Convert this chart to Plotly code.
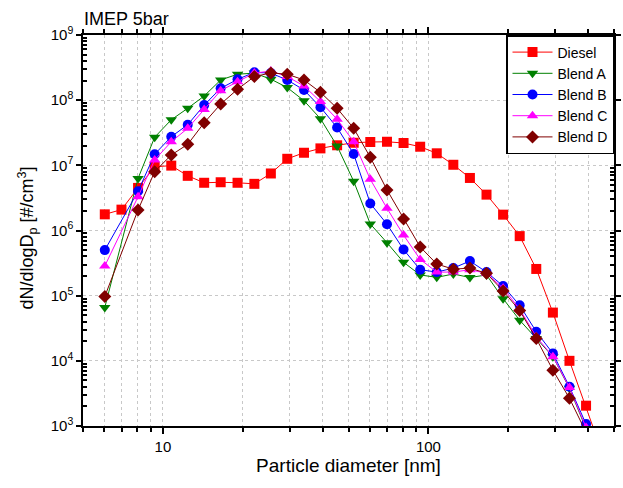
import plotly.graph_objects as go

diameter = [6.04, 6.98, 8.06, 9.31, 10.75, 12.4, 14.3, 16.5, 19.1, 22.1, 25.5, 29.4,
            34.0, 39.2, 45.3, 52.3, 60.4, 69.8, 80.6, 93.1, 107.5, 124.1, 143.3,
            165.5, 191.1, 220.7, 254.8, 294.3, 339.8, 392.4, 453.1]

diesel = [1.77e6, 2.09e6, 4.5e6, 9.5e6, 9.9e6, 6.9e6, 5.4e6, 5.5e6, 5.4e6, 5.2e6,
          7.5e6, 1.26e7, 1.56e7, 1.82e7, 2.03e7, 2.22e7, 2.28e7, 2.3e7, 2.2e7,
          1.93e7, 1.53e7, 1.02e7, 6.4e6, 3.55e6, 1.75e6, 8.2e5, 2.57e5, 5.5e4,
          1.0e4, 2.05e3, 3.7e2]

blend_a = [6.6e4, None, 6.3e6, 2.7e7, 5.0e7, 7.5e7, 1.16e8, 2.04e8, 2.5e8, 2.6e8,
           2.1e8, 1.56e8, 9.8e7, 5.2e7, 1.98e7, 5.7e6, 1.26e6, 6.5e5, 3.25e5,
           2.08e5, 1.91e5, 2.15e5, 1.9e5, 2.08e5, 9.0e4, 4.2e4, 2.2e4, 1.16e4,
           3.8e3, 9.0e2, None]

blend_b = [5.0e5, None, 4.0e6, 1.48e7, 2.75e7, 4.2e7, 8.4e7, 1.52e8, 2.09e8, 2.67e8,
           2.6e8, 2.04e8, 1.43e8, 7.8e7, 3.8e7, 1.49e7, 2.6e6, 1.25e6, 5.1e5,
           2.5e5, 2.3e5, 2.65e5, 3.4e5, 2.3e5, 1.41e5, 7.1e4, 2.8e4, 1.3e4,
           4.0e3, 1.07e3, None]

blend_c = [2.85e5, None, 3.3e6, 1.21e7, 2.3e7, 3.7e7, 7.2e7, 1.4e8, 1.92e8, 2.6e8,
           2.8e8, 2.3e8, 1.65e8, 9.5e7, 5.1e7, 2.3e7, 6.1e6, 2.19e6, 8.5e5,
           3.6e5, 2.3e5, 2.3e5, 2.5e5, 2.2e5, 1.3e5, 6.2e4, 2.35e4, 1.16e4,
           3.9e3, 9.5e2, None]

blend_d = [9.7e4, None, 2.07e6, 8.0e6, 1.44e7, 2.1e7, 4.5e7, 8.7e7, 1.47e8, 2.3e8,
           2.62e8, 2.5e8, 2.04e8, 1.32e8, 7.5e7, 3.7e7, 1.33e7, 4.2e6, 1.5e6,
           5.6e5, 3.06e5, 2.55e5, 2.65e5, 2.2e5, 1.18e5, 5.9e4, 2.2e4, 7.2e3,
           2.66e3, 8.0e2, None]

series = [
    ("Diesel", diesel, "#FF0000", "square"),
    ("Blend A", blend_a, "#008000", "triangle-down"),
    ("Blend B", blend_b, "#0000FF", "circle"),
    ("Blend C", blend_c, "#FF00FF", "triangle-up"),
    ("Blend D", blend_d, "#800000", "diamond"),
]

y_tickvals = [1e3, 1e4, 1e5, 1e6, 1e7, 1e8, 1e9]
y_ticktext = ["10<sup>3</sup>", "10<sup>4</sup>", "10<sup>5</sup>", "10<sup>6</sup>",
              "10<sup>7</sup>", "10<sup>8</sup>", "10<sup>9</sup>"]
y_minor = [m * 10 ** e for e in range(3, 9) for m in (2, 3, 4, 5, 6, 7, 8, 9)]
x_tickvals = [10, 100]
x_ticktext = ["10", "100"]
x_minor = [5, 6, 7, 8, 9, 20, 30, 40, 50, 60, 70, 80, 90, 200, 300, 400, 500]

fig = go.Figure()
for name, vals, color, sym in series:
    fig.add_trace(go.Scatter(
        x=diameter, y=vals, name=name, mode="lines+markers", connectgaps=True,
        line=dict(color=color, width=1),
        marker=dict(symbol=sym, size=10, color=color),
    ))

font_family = "Arial"
fig.update_layout(
    template="none",
    width=623, height=488,
    margin=dict(l=83, r=9, t=35, b=62, autoexpand=False),
    paper_bgcolor="white", plot_bgcolor="white",
    font=dict(family=font_family, size=14, color="black"),
    title=dict(text="IMEP 5bar", x=0.135, xanchor="left", y=0.962, yanchor="middle",
               font=dict(size=18, family=font_family)),
    showlegend=True,
    legend=dict(x=1, y=1, xanchor="right", yanchor="top",
                bordercolor="black", borderwidth=1.5, bgcolor="white",
                font=dict(size=14, family=font_family),
                tracegroupgap=0, itemwidth=40),
    annotations=[dict(
        text="dN/dlogD<sub>p</sub> [#/cm<sup>3</sup>]", textangle=-90,
        xref="paper", yref="paper", x=-0.105, y=0.48,
        xanchor="center", yanchor="middle", showarrow=False,
        font=dict(size=18, family=font_family),
    )],
)
fig.update_xaxes(
    type="log", range=[0.69897, 2.69897], automargin=False,
    tickvals=x_tickvals, ticktext=x_ticktext,
    ticks="outside", ticklen=6, tickwidth=1.5, tickcolor="black",
    showline=True, linecolor="black", linewidth=1.5, mirror="allticks",
    showgrid=True, gridcolor="#C8C8C8", griddash="dot", gridwidth=1,
    minor=dict(tickmode="array", tickvals=x_minor, ticks="outside", ticklen=4,
               tickcolor="black", showgrid=True,
               gridcolor="#C8C8C8", griddash="dot", gridwidth=1),
    title=dict(text="Particle diameter [nm]", font=dict(size=19), standoff=2),
    tickfont=dict(size=15),
    zeroline=False,
)
fig.update_yaxes(
    type="log", range=[3, 9], automargin=False,
    tickvals=y_tickvals, ticktext=y_ticktext,
    ticks="outside", ticklen=5, tickwidth=1.5, tickcolor="black",
    showline=True, linecolor="black", linewidth=1.5, mirror="allticks",
    showgrid=True, gridcolor="#C8C8C8", griddash="dot", gridwidth=1,
    minor=dict(tickmode="array", tickvals=y_minor, ticks="inside", ticklen=4,
               tickcolor="black", showgrid=False),
    tickfont=dict(size=15),
    zeroline=False,
)
fig.write_html("out.html", config={"displayModeBar": False},
               post_script="document.body.style.margin='0px';document.body.style.padding='0px';")
